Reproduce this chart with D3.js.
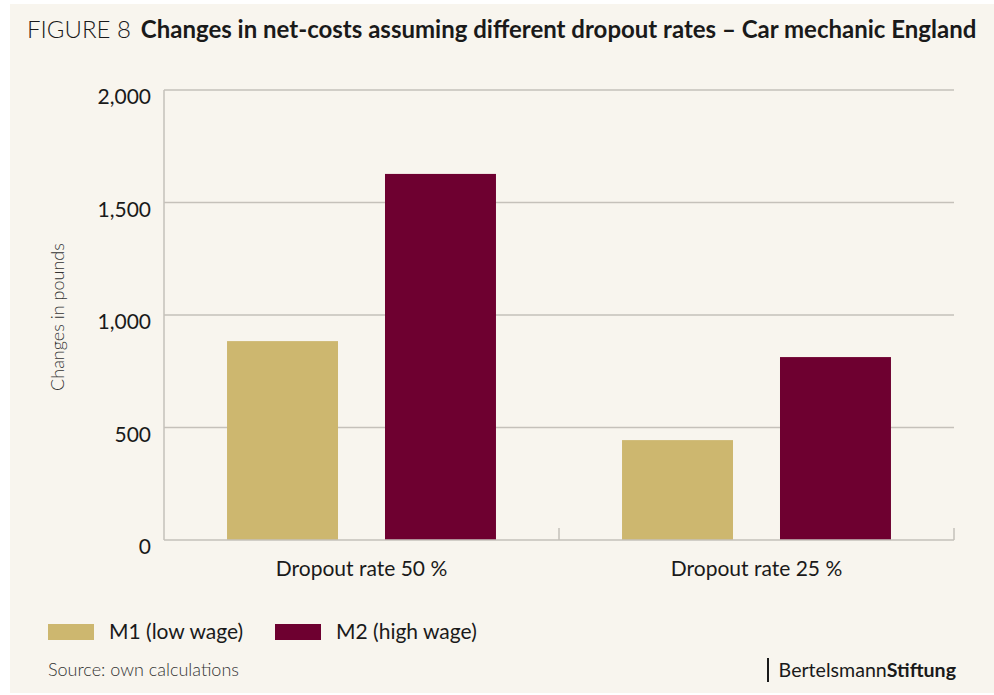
<!DOCTYPE html>
<html>
<head>
<meta charset="utf-8">
<script src="https://cdn.jsdelivr.net/npm/d3@7"></script>
<style>
  body { margin: 0; background: #ffffff; }
  svg { display: block; font-family: Lato, 'Open Sans', sans-serif; }
</style>
</head>
<body>
<svg width="994" height="695"></svg>
<script>
var categories = ["Dropout rate 50 %", "Dropout rate 25 %"];
var seriesNames = ["M1 (low wage)", "M2 (high wage)"];
var m1Values = [884, 444];
var m2Values = [1627, 813];
var yTicks = [0, 500, 1000, 1500, 2000];
var colors = ["#cdb76f", "#6e0030"];

var svg = d3.select("svg");

// beige panel
svg.append("rect")
    .attr("x", 10).attr("y", 4)
    .attr("width", 984).attr("height", 689)
    .attr("fill", "#f8f5ee");

// title
var title = svg.append("text")
    .attr("x", 27).attr("y", 38)
    .attr("font-size", 24)
    .attr("fill", "#1a1a1a");
title.append("tspan").attr("font-weight", 300).text("FIGURE 8");
title.append("tspan").attr("font-weight", 700).attr("dx", 10)
    .text("Changes in net-costs assuming different dropout rates \u2013 Car mechanic England");

var pLeft = 164, pRight = 954, pTop = 90, pBottom = 540;

var x0 = d3.scaleBand().domain(categories).range([pLeft, pRight]);
var x1 = d3.scaleBand().domain(seriesNames).range([0, x0.bandwidth()])
    .paddingInner(0.2975).paddingOuter(0.399);
var y = d3.scaleLinear().domain([0, 2000]).range([pBottom, pTop]);

var gridColor = "#c5c1ba";

// gridlines
svg.append("g").selectAll("line")
    .data(yTicks.filter(function(d){ return d > 0; }))
    .enter().append("line")
    .attr("x1", pLeft).attr("x2", pRight)
    .attr("y1", function(d){ return y(d); })
    .attr("y2", function(d){ return y(d); })
    .attr("stroke", gridColor).attr("stroke-width", 1.5);

// y tick labels
svg.append("g").selectAll("text")
    .data(yTicks)
    .enter().append("text")
    .attr("x", 151)
    .attr("y", function(d){ return y(d) + 14; })
    .attr("text-anchor", "end")
    .attr("font-size", 21)
    .attr("fill", "#1a1a1a")
    .text(function(d){ return d3.format(",")(d); });

// y axis title
svg.append("text")
    .attr("transform", "translate(64," + ((pTop + pBottom) / 2 + 2) + ") rotate(-90)")
    .attr("text-anchor", "middle")
    .attr("font-size", 18)
    .attr("font-weight", 300)
    .attr("fill", "#333")
    .text("Changes in pounds");

// bars
var rows = categories.map(function(c, i){
    return { cat: c, vals: [m1Values[i], m2Values[i]] };
});
var groups = svg.append("g").selectAll("g")
    .data(rows)
    .enter().append("g")
    .attr("transform", function(d){ return "translate(" + x0(d.cat) + ",0)"; });
groups.selectAll("rect")
    .data(function(d){ return d.vals.map(function(v, j){ return { name: seriesNames[j], v: v, j: j }; }); })
    .enter().append("rect")
    .attr("x", function(d){ return x1(d.name); })
    .attr("width", x1.bandwidth())
    .attr("y", function(d){ return y(d.v); })
    .attr("height", function(d){ return y(0) - y(d.v); })
    .attr("fill", function(d){ return colors[d.j]; });

// axes lines
svg.append("line")
    .attr("x1", pLeft).attr("x2", pLeft).attr("y1", pTop).attr("y2", pBottom)
    .attr("stroke", gridColor).attr("stroke-width", 1.5);
svg.append("line")
    .attr("x1", pLeft).attr("x2", pRight).attr("y1", pBottom).attr("y2", pBottom)
    .attr("stroke", gridColor).attr("stroke-width", 1.5);
var bounds = categories.slice(1).map(function(c){ return x0(c); }).concat([pRight]);
svg.append("g").selectAll("line")
    .data(bounds)
    .enter().append("line")
    .attr("x1", function(d){ return d; }).attr("x2", function(d){ return d; })
    .attr("y1", pBottom).attr("y2", pBottom - 12)
    .attr("stroke", gridColor).attr("stroke-width", 1.5);

// category labels
svg.append("g").selectAll("text")
    .data(categories)
    .enter().append("text")
    .attr("x", function(d){ return x0(d) + x0.bandwidth() / 2; })
    .attr("y", 576)
    .attr("text-anchor", "middle")
    .attr("font-size", 21)
    .attr("fill", "#1a1a1a")
    .text(function(d){ return d; });

// legend
var legendX = [48, 275];
var lg = svg.append("g").selectAll("g")
    .data(seriesNames)
    .enter().append("g")
    .attr("transform", function(d, i){ return "translate(" + legendX[i] + ",624)"; });
lg.append("rect")
    .attr("width", 46).attr("height", 16)
    .attr("fill", function(d, i){ return colors[i]; });
lg.append("text")
    .attr("x", 61).attr("y", 15)
    .attr("font-size", 21)
    .attr("fill", "#1a1a1a")
    .text(function(d){ return d; });

// source
svg.append("text")
    .attr("x", 48).attr("y", 676)
    .attr("font-size", 18)
    .attr("font-weight", 300)
    .attr("fill", "#333")
    .text("Source: own calculations");

// logo
svg.append("rect")
    .attr("x", 767).attr("y", 658)
    .attr("width", 2).attr("height", 24)
    .attr("fill", "#1a1a1a");
var logo = svg.append("text")
    .attr("x", 956).attr("y", 677)
    .attr("text-anchor", "end")
    .attr("font-size", 19.6)
    .attr("fill", "#1a1a1a");
logo.append("tspan").text("Bertelsmann");
logo.append("tspan").attr("font-weight", 700).text("Stiftung");
</script>
</body>
</html>
